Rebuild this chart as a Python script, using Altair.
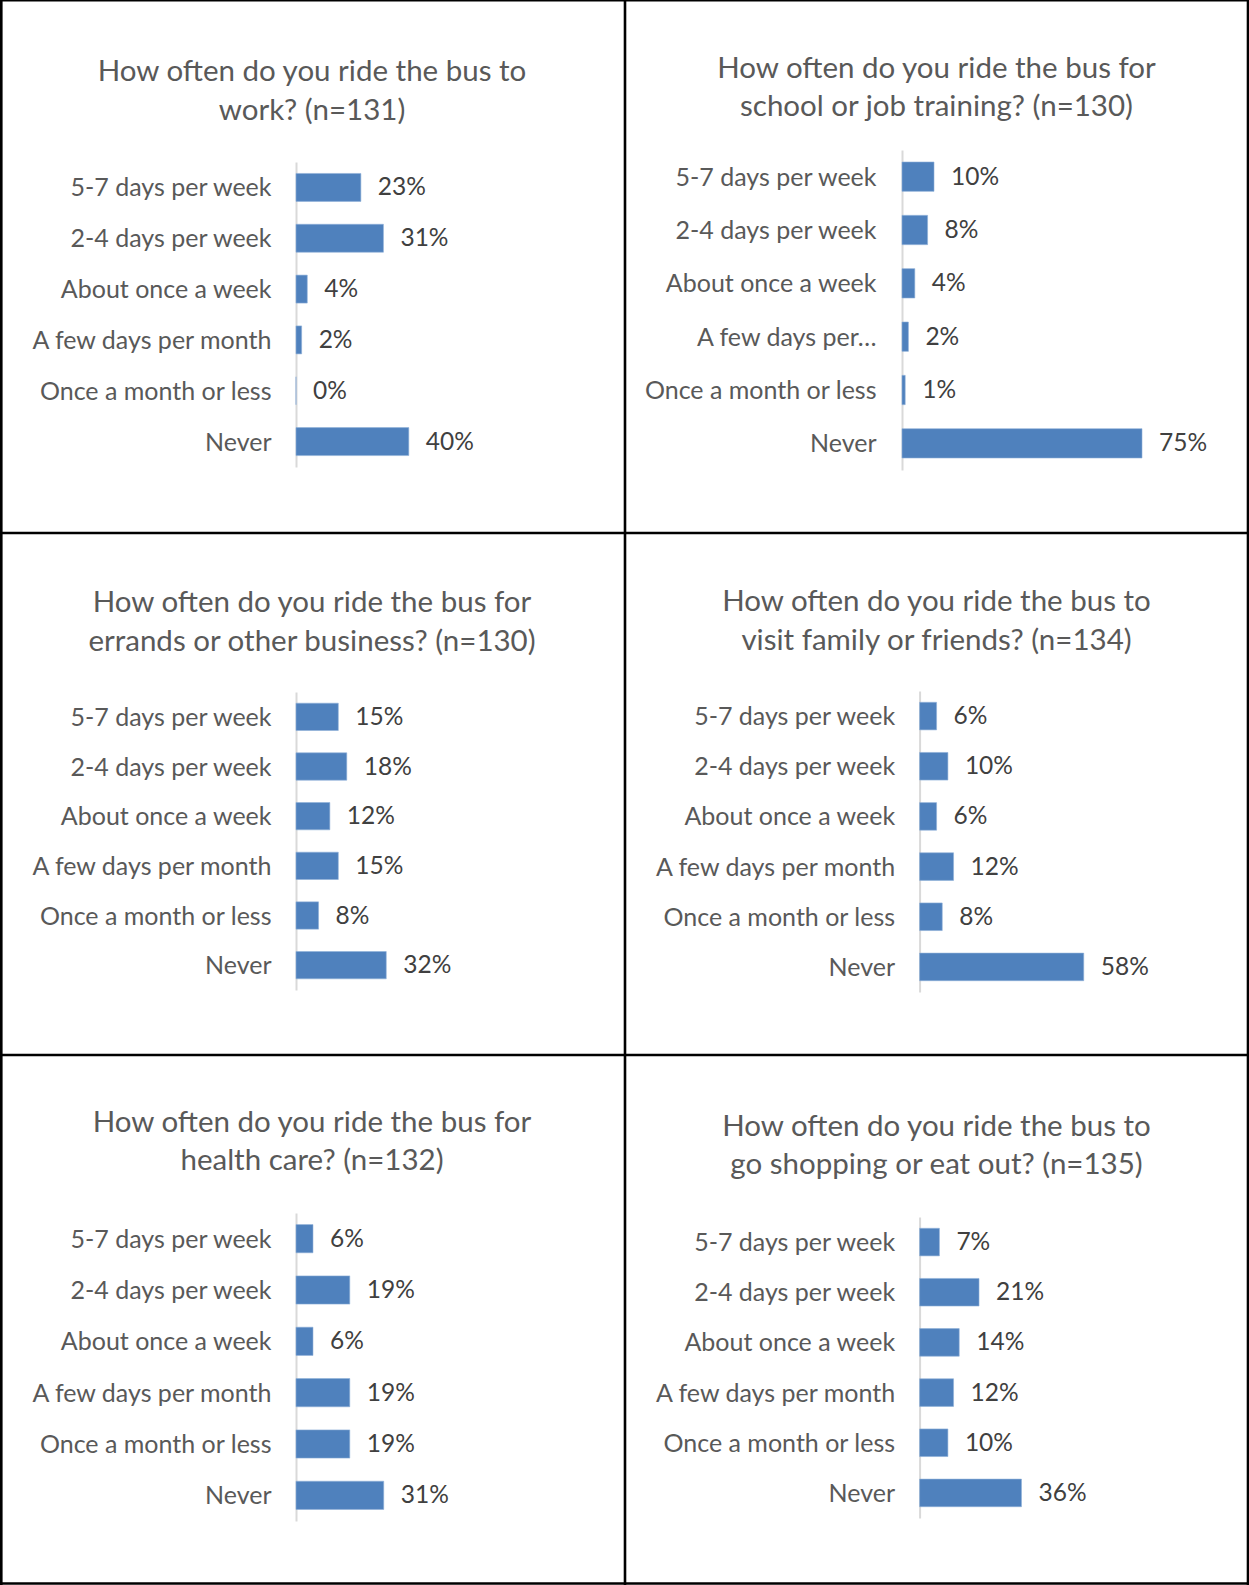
import altair as alt
import pandas as pd

# ---- data ----
categories = ["5-7 days per week", "2-4 days per week", "About once a week",
              "A few days per month", "Once a month or less", "Never"]
categories_school = ["5-7 days per week", "2-4 days per week", "About once a week",
                     "A few days per\u2026", "Once a month or less", "Never"]

work = [23, 31, 4, 2, 0, 40]
school = [10, 8, 4, 2, 1, 75]
errands = [15, 18, 12, 15, 8, 32]
visit = [6, 10, 6, 12, 8, 58]
health = [6, 19, 6, 19, 19, 31]
shopping = [7, 21, 14, 12, 10, 36]

titles = [
    ["How often do you ride the bus to", "work? (n=131)"],
    ["How often do you ride the bus for", "school or job training? (n=130)"],
    ["How often do you ride the bus for", "errands or other business? (n=130)"],
    ["How often do you ride the bus to", "visit family or friends? (n=134)"],
    ["How often do you ride the bus for", "health care? (n=132)"],
    ["How often do you ride the bus to", "go shopping or eat out? (n=135)"],
]

# ---- style ----
FONT = "Lato"
TITLE_SIZE = 29.5
LABEL_SIZE = 25
VALUE_SIZE = 24.5
BAR_COLOR = "#4F81BD"
TEXT_GRAY = "#595959"
VALUE_GRAY = "#404040"
W, H = 1249, 1585

one_row = pd.DataFrame({"k": [0]})


def panel(cats, values, axis_x, y_range, px_per_pct, pad=25):
    df = pd.DataFrame({"cat": cats, "val": values,
                       "label": [f"{v}%" for v in values]})
    base = alt.Chart(df).encode(
        y=alt.Y("cat:N", sort=cats,
                scale=alt.Scale(range=y_range, paddingInner=0.45, paddingOuter=0.225),
                axis=alt.Axis(title=None, orient="left", offset=-axis_x, ticks=False,
                              tickSize=0, labelPadding=pad, labelFont=FONT,
                              labelFontSize=LABEL_SIZE, labelColor=TEXT_GRAY,
                              labelOffset=1,
                              domainColor="#D9D9D9", domainWidth=2,
                              labelLimit=400, grid=False)),
        x=alt.X("val:Q",
                scale=alt.Scale(domain=[0, 100],
                                range=[axis_x, axis_x + px_per_pct * 100]),
                axis=None),
    )
    bars = base.mark_bar(color=BAR_COLOR, stroke="#8FB0D8", strokeWidth=0.6)
    labels = base.mark_text(align="left", baseline="middle", dx=17, dy=1, font=FONT,
                            fontSize=VALUE_SIZE, color=VALUE_GRAY).encode(text="label:N")
    return alt.layer(bars, labels)


def title_mark(lines, x, y):
    return alt.Chart(one_row).mark_text(
        align="center", baseline="middle", font=FONT, fontSize=TITLE_SIZE,
        color=TEXT_GRAY, lineHeight=38.5,
    ).encode(x=alt.value(x), y=alt.value(y), text=alt.value(lines))


def vline(x):
    return alt.Chart(one_row).mark_rule(color="black", strokeWidth=2.6).encode(
        x=alt.value(x), y=alt.value(0), y2=alt.value(H))


def hline(y, sw=2.6):
    return alt.Chart(one_row).mark_rule(color="black", strokeWidth=sw).encode(
        y=alt.value(y), x=alt.value(0), x2=alt.value(W))


panels = [
    panel(categories, work, 296, [162, 467], 2.82),
    panel(categories_school, school, 902, [150, 470], 3.2, pad=26),
    panel(categories, errands, 296, [692, 990], 2.82),
    panel(categories, visit, 919.6, [691, 992], 2.83),
    panel(categories, health, 296, [1213, 1521], 2.83),
    panel(categories, shopping, 919.6, [1217, 1518], 2.83),
]
title_pos = [(312, 72), (936.5, 68.7), (312, 603), (936.5, 602), (312, 1122.7), (936.5, 1126.7)]
title_marks = [title_mark(t, x, y) for t, (x, y) in zip(titles, title_pos)]

borders = [vline(1.3), vline(625), vline(1248), hline(0.7, 1.5), hline(533), hline(1055), hline(1583.5)]

chart = alt.layer(*panels, *title_marks, *borders).resolve_scale(
    x="independent", y="independent"
).properties(
    width=W, height=H, padding=0, background="white",
    autosize=alt.AutoSizeParams(type="none"),
).configure_view(strokeWidth=0)

chart.save("out.html", embed_options={"renderer": "svg", "actions": False})
